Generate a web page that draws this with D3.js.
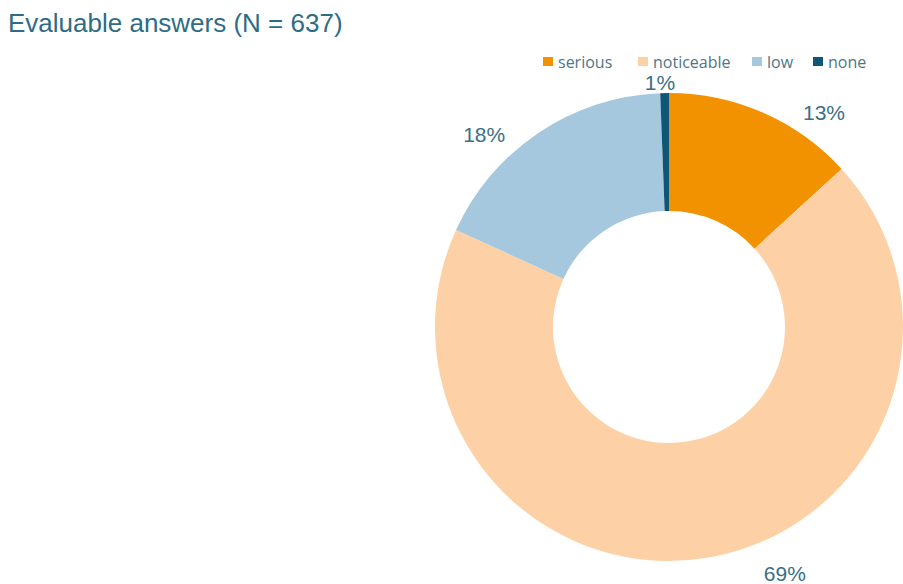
<!DOCTYPE html>
<html>
<head>
<meta charset="utf-8">
<script src="https://cdn.jsdelivr.net/npm/d3@7"></script>
<style>
  html, body { margin: 0; padding: 0; background: #ffffff; }
  svg { display: block; }
</style>
</head>
<body>
<svg id="chart" width="903" height="584"></svg>
<script>
// ---- data ----
const title = "Evaluable answers (N = 637)";
const categories = ["serious", "noticeable", "low", "none"];
const shares = [13.2, 68.6, 17.6, 0.6];           // percent of answers
const colors = ["#F39200", "#FDD1A5", "#A5C8DF", "#0F5575"];

// ---- layout (not data) ----
const W = 903, H = 584;
const cx = 669, cy = 327, rOuter = 234, rInner = 116;
// label placement: [angle in degrees clockwise from top, radius]
const labelPlace = [[35.8, 265], [154.8, 272], [316.2, 267], [-2.1, 245]];
const legendX = [543, 638, 752, 813];
const legendY = 62;

const svg = d3.select("#chart");

svg.append("text")
  .attr("x", 8).attr("y", 32)
  .attr("font-family", "Liberation Sans, Arial, sans-serif")
  .attr("font-size", 26)
  .attr("fill", "#2E6C86")
  .text(title);

const pie = d3.pie().sort(null).value(d => d.value)
  .startAngle(0).endAngle(2 * Math.PI);
const data = categories.map((c, i) => ({ cat: c, value: shares[i], color: colors[i] }));
const arcs = pie(data);
const arc = d3.arc().innerRadius(rInner).outerRadius(rOuter);

const g = svg.append("g").attr("transform", `translate(${cx},${cy})`);
g.selectAll("path.slice").data(arcs).enter().append("path")
  .attr("class", "slice")
  .attr("d", arc)
  .attr("fill", d => d.data.color);

const fmt = v => Math.round(v) + "%";
g.selectAll("text.lbl").data(arcs).enter().append("text")
  .attr("class", "lbl")
  .attr("x", (d, i) => labelPlace[i][1] * Math.sin(labelPlace[i][0] * Math.PI / 180))
  .attr("y", (d, i) => -labelPlace[i][1] * Math.cos(labelPlace[i][0] * Math.PI / 180))
  .attr("text-anchor", "middle")
  .attr("dominant-baseline", "central")
  .attr("font-family", "Liberation Sans, Arial, sans-serif")
  .attr("font-size", 21)
  .attr("fill", "#3B6F83")
  .text(d => fmt(d.data.value));

// legend
const leg = svg.append("g");
const items = leg.selectAll("g").data(data).enter().append("g")
  .attr("transform", (d, i) => `translate(${legendX[i]},${legendY})`);
items.append("rect")
  .attr("x", 0).attr("y", -5).attr("width", 10).attr("height", 9)
  .attr("fill", d => d.color);
items.append("text")
  .attr("x", 15).attr("y", 0)
  .attr("dominant-baseline", "central")
  .attr("font-family", "Open Sans, sans-serif")
  .attr("font-size", 16)
  .attr("fill", "#4E7689")
  .text(d => d.cat);
</script>
</body>
</html>
